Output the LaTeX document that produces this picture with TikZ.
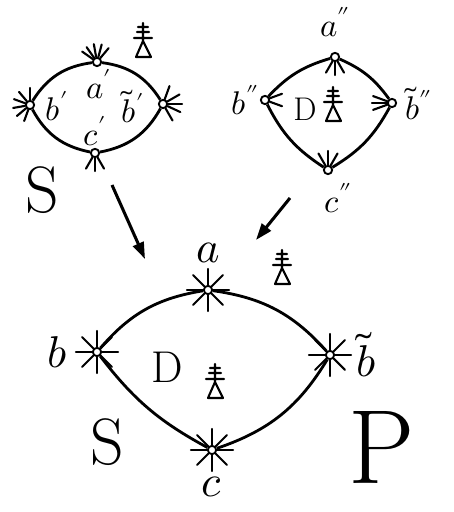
\documentclass[tikz,border=0pt]{standalone}
\usepackage{unicode-math}
\usetikzlibrary{positioning, arrows.meta}

\tikzset{
  glyph/.pic={
    \draw[line width=1.8pt, line cap=round, line join=round]
      (-5,16) -- (5,16)
      (-6,11) -- (6,11)
      (-9,5) -- (9,5)
      (0,20) -- (0,2)
      (0,2) -- (-7,-14) -- (8,-14) -- cycle;
  }
}

\newcommand{\rays}[3]{%
  \foreach \t in {#2} {\draw[ray] (#1.\t) -- ++(\t:#3);}}

\begin{document}
\begin{tikzpicture}[x=0.03cm, y=0.03cm,
      vtx/.style={circle, draw=black, fill=white, line width=1.6pt,
                  minimum size=2.5mm, inner sep=0pt},
      edge/.style={draw=black, line width=2.4pt},
      ray/.style={draw=black, line width=1.8pt, line cap=round},
      map/.style={draw=black, line width=2.6pt,
                  -{Triangle[length=5mm,width=3.4mm]}},
      lbl/.style={font=\fontsize{38}{38}\selectfont, inner sep=1pt},
      slbl/.style={font=\fontsize{28}{28}\selectfont, inner sep=1pt},
      big/.style={font=\fontsize{56}{56}\selectfont, inner sep=0pt},
    ]
    \useasboundingbox (0,0) rectangle (453,512);

    % ---- upper left: S' ------------------------------------------
    \node[vtx] (ap) at (97,450) {};
    \node[vtx] (bp) at (30,407) {};
    \node[vtx] (btp) at (163,408) {};
    \node[vtx] (cp) at (95,359) {};

    \draw[edge] (bp) to[bend left=25] (ap);
    \draw[edge] (ap) to[bend left=25] (btp);
    \draw[edge] (btp) to[bend left=25] (cp);
    \draw[edge] (cp) to[bend left=25] (bp);

    \rays{ap}{50,75,100,125,145}{13}
    \rays{bp}{90,130,160,190,220,250}{12}
    \rays{btp}{-60,-25,0,30,70}{14}
    \rays{cp}{240,270,300}{13}

    \node[slbl] (apl) at (99,428) {$a'$};
    \node[slbl] (bpl) at (57,406) {$b'$};
    \node[slbl] (btpl) at (133,406) {$\tilde b'$};
    \node[slbl] (cpl) at (95,381) {$c'$};
    \node[big] (sp) at (42,322) {$\mathrm{S}$};
    \pic at (143,469) {glyph};

    % ---- upper right: D'' ----------------------------------------
    \node[vtx] (app) at (335,455) {};
    \node[vtx] (bpp) at (265,412) {};
    \node[vtx] (btpp) at (392,409) {};
    \node[vtx] (cpp) at (328,342) {};

    \draw[edge] (bpp) to[bend left=15] (app);
    \draw[edge] (app) to[bend left=15] (btpp);
    \draw[edge] (btpp) to[bend left=15] (cpp);
    \draw[edge] (cpp) to[bend left=15] (bpp);

    \rays{app}{240,270,300}{13}
    \rays{bpp}{-20,20}{13}
    \rays{btpp}{160,180,200}{15}
    \rays{cpp}{60,90,120}{14}

    \node[slbl, above=4mm of app] (appl) {$a''$};
    \node[slbl, left=0mm of bpp] (bppl) {$b''$};
    \node[slbl, right=2mm of btpp] (btppl) {$\tilde b''$};
    \node[slbl, below=2mm of cpp, xshift=3mm] (cppl) {$c''$};
    \node[slbl] (dpp) at (305,403) {$\mathrm{D}$};
    \pic at (333,405) {glyph};

    % ---- bottom: D in S and P ------------------------------------
    \node[vtx] (a) at (208,222) {};
    \node[vtx] (b) at (97,160) {};
    \node[vtx] (bt) at (330,157) {};
    \node[vtx] (c) at (212,62) {};

    \draw[edge] (b) to[bend left=20] (a);
    \draw[edge] (a) to[bend left=20] (bt);
    \draw[edge] (bt) to[bend left=20] (c);
    \draw[edge] (c) to[bend left=12] (b);

    \foreach \v in {a, b, bt, c} {\rays{\v}{0,45,...,315}{16}}

    \node[lbl, above=6mm of a] (al) {$a$};
    \node[lbl, left=7mm of b] (bl) {$b$};
    \node[lbl, right=6mm of bt] (btl) {$\tilde b$};
    \node[lbl, below=6mm of c] (cl) {$c$};
    \node[lbl] (d) at (167,145) {$\mathrm{D}$};
    \pic at (215,128) {glyph};
    \pic at (282,242) {glyph};
    \node[big] (s) at (107,70) {$\mathrm{S}$};
    \node[big, font=\fontsize{90}{90}\selectfont] (p) at (382,65) {$\mathrm{P}$};

    % ---- maps ----------------------------------------------------
    \coordinate (m1s) at (112,327);
    \coordinate (m1e) at (145,253);
    \coordinate (m2s) at (290,314);
    \coordinate (m2e) at (256,272);
    \draw[map] (m1s) -- (m1e);
    \draw[map] (m2s) -- (m2e);

  \end{tikzpicture}
\end{document}
